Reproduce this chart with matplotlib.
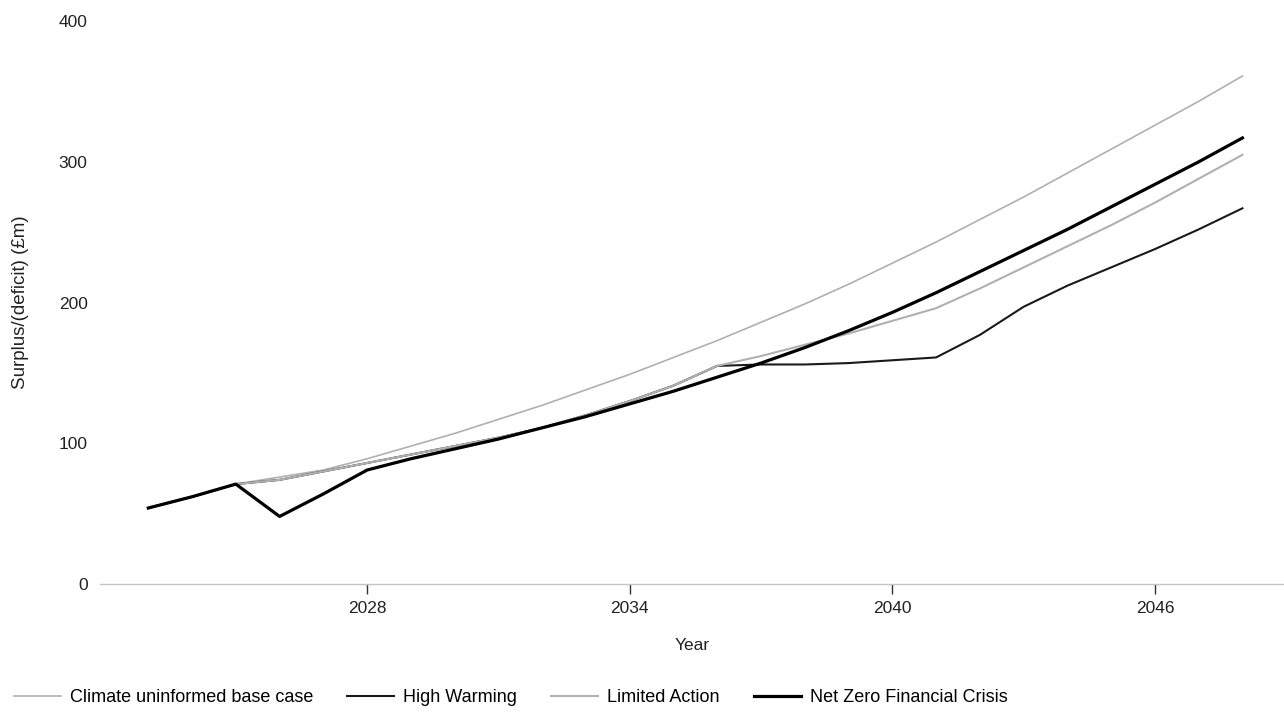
import matplotlib.pyplot as plt
import numpy as np

plt.rcParams['font.family'] = ['Liberation Sans', 'DejaVu Sans']

years = np.arange(2023, 2049)

# 各シナリオの剰余／赤字（£m）
base_case = [54, 62, 71, 76, 81, 89, 98, 107, 117, 127, 138, 149, 161,
             173, 186, 199, 213, 228, 243, 259, 275, 292, 309, 326, 343, 361]
high_warming = [54, 62, 71, 74, 80, 86, 92, 98, 104, 111, 120, 130, 141,
                155, 156, 156, 157, 159, 161, 177, 197, 212, 225, 238, 252, 267]
limited_action = [54, 62, 71, 74, 80, 86, 92, 98, 104, 111, 120, 130, 141,
                  155, 162, 170, 178, 187, 196, 210, 225, 240, 255, 271, 288, 305]
net_zero_crisis = [54, 62, 71, 48, 64, 81, 89, 96, 103, 111, 119, 128, 137,
                   147, 157, 168, 180, 193, 207, 222, 237, 252, 268, 284, 300, 317]

tick_years = [2028, 2034, 2040, 2046]

fig = plt.figure(figsize=(12.84, 7.17), dpi=100)
ax = fig.add_axes([0.078, 0.1855, 0.922, 0.785])

ax.plot(years, base_case, color='#b0b0b0', lw=1.2,
        label='Climate uninformed base case')
ax.plot(years, high_warming, color='#1a1a1a', lw=1.5, label='High Warming')
ax.plot(years, limited_action, color='#b0b0b0', lw=1.5, label='Limited Action')
ax.plot(years, net_zero_crisis, color='black', lw=2.3,
        label='Net Zero Financial Crisis')

ax.set_xlim(2021.9, 2048.95)
ax.set_ylim(0, 400)
ax.set_yticks([0, 100, 200, 300, 400])
ax.set_xticks(tick_years)

for s in ['top', 'right', 'left']:
    ax.spines[s].set_visible(False)
ax.spines['bottom'].set_color('#c4c4c4')
ax.spines['bottom'].set_linewidth(1)
ax.tick_params(axis='y', length=0, pad=9, labelsize=12.5, labelcolor='#222222')
ax.tick_params(axis='x', length=7, width=1, color='#333333', pad=5,
               labelsize=12.5, labelcolor='#222222')

ax.set_xlabel('Year', fontsize=12.5, labelpad=16, color='#222222')
ax.set_ylabel('Surplus/(deficit) (£m)', fontsize=13.5, labelpad=21,
              color='#222222')

fig.legend(loc='lower left', bbox_to_anchor=(-0.002, -0.008), ncol=4,
           frameon=False, fontsize=13, handlelength=2.6,
           columnspacing=1.9, handletextpad=0.5)

fig.savefig('out.png', dpi=100)
